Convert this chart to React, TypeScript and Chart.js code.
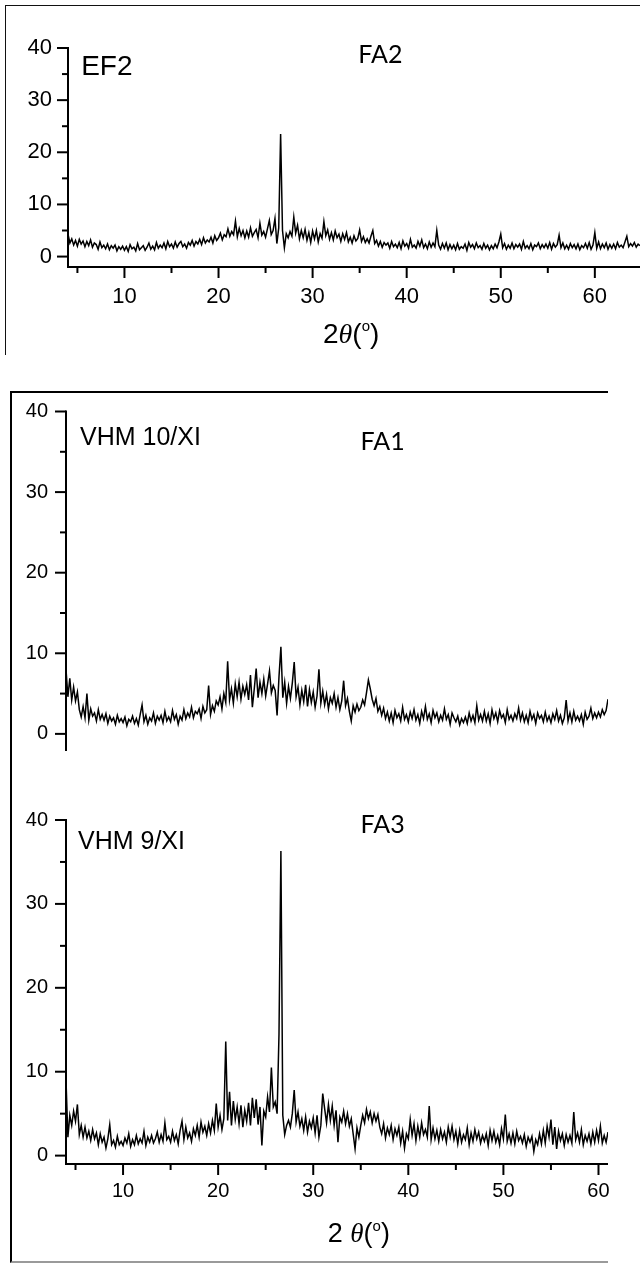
import React, { useEffect, useRef } from 'react';
import { Chart, registerables } from 'chart.js';

Chart.register(...registerables);

// Scan grid of the diffractometer (2θ, degrees)
const SCAN_START = 4;
const SCAN_STEP = 0.2;

// EF2 / FA2 intensities, one row per degree (x.0 x.2 x.4 x.6 x.8), 4.0 … 64.8
const FA2_INTENSITY = [
  4.3, 2.6, 3.4, 2.2, 3.1,
  2.0, 3.3, 2.4, 3.0, 1.9,
  2.9, 2.1, 3.2, 1.8, 2.6,
  2.3, 1.4, 2.8, 1.7, 2.2,
  1.5, 2.4, 1.3, 2.1, 1.6,
  2.2, 1.1, 1.9, 1.4, 2.0,
  1.2, 1.9, 1.0, 2.3, 1.5,
  1.8, 1.1, 2.5, 1.3, 1.7,
  2.1, 1.2, 1.8, 2.6, 1.4,
  2.0, 1.3, 2.7, 1.6, 2.2,
  1.7, 2.6, 1.5, 2.9, 1.9,
  2.4, 1.6, 2.8, 1.8, 2.5,
  2.9, 1.9, 2.4, 1.6, 2.7,
  2.2, 3.1, 2.0, 2.9, 2.4,
  3.3, 2.3, 3.6, 2.6, 3.2,
  2.8, 3.7, 2.6, 4.0, 3.1,
  3.6, 4.5, 3.2, 4.2, 3.8,
  5.3, 3.9, 4.8, 4.2, 6.8,
  3.8, 5.4, 4.0, 5.0, 3.6,
  4.9, 3.7, 5.5, 3.9, 4.6,
  5.2, 3.6, 6.4, 4.1, 4.8,
  3.7, 5.3, 6.9, 4.2, 5.0,
  7.3, 2.5, 5.5, 23.5, 5.0,
  1.7, 4.4, 3.6, 4.8, 3.9,
  7.6, 4.5, 6.0, 3.4, 5.0,
  3.6, 5.2, 3.1, 4.6, 2.7,
  4.9, 3.4, 5.0, 2.8, 4.4,
  3.5, 6.7, 4.0, 5.1, 3.3,
  4.6, 3.2, 4.9, 3.6, 4.3,
  2.9, 4.4, 3.3, 4.6, 2.8,
  3.7, 2.6, 4.0, 3.0, 3.5,
  5.1, 2.9, 3.8, 2.7, 3.4,
  2.6, 3.9, 5.0, 2.5, 3.1,
  2.0, 2.9, 1.8, 2.7, 2.2,
  2.6, 1.6, 2.9, 1.9, 2.4,
  1.7, 2.7, 1.5, 3.0, 2.0,
  2.5, 1.6, 3.3, 1.8, 2.2,
  1.6, 2.9, 2.0, 3.2, 1.7,
  2.4, 1.5, 2.8, 1.8, 2.6,
  1.9, 5.0, 2.2, 1.4, 2.5,
  1.6, 2.6, 1.3, 2.3, 1.5,
  2.2, 1.3, 2.5, 1.4, 1.9,
  1.6, 2.4, 1.2, 2.7, 1.8,
  2.3, 1.5, 2.6, 1.7, 2.1,
  1.4, 2.5, 1.6, 2.2, 1.3,
  2.1, 1.5, 2.4, 1.7, 2.8,
  4.3, 1.7, 2.5, 1.4, 2.2,
  1.6, 2.6, 1.5, 2.3, 1.8,
  2.4, 1.4, 2.9, 1.6, 2.1,
  1.5, 2.5, 1.3, 2.2, 1.9,
  2.6, 1.5, 2.3, 1.7, 2.4,
  1.6, 2.7, 1.4, 2.5, 1.8,
  2.3, 4.1, 1.7, 2.6, 1.5,
  2.2, 1.4, 2.5, 1.7, 2.3,
  1.5, 2.4, 1.3, 2.1, 1.7,
  2.5, 1.6, 2.7, 1.4, 2.2,
  4.6, 1.6, 2.8, 1.5, 2.4,
  1.7, 2.6, 1.4, 2.3, 1.6,
  2.4, 1.5, 2.7, 1.8, 2.2,
  1.7, 2.8, 3.9, 1.9, 2.5,
  2.0, 2.7, 1.8, 2.4, 2.1,
];

// VHM 10/XI / FA1 intensities, 4.0 … 61.0
const FA1_INTENSITY = [
  8.0, 4.6, 6.9, 4.2, 5.8,
  4.1, 5.2, 3.0, 2.1, 3.4,
  2.0, 5.0, 1.7, 3.1, 2.2,
  2.6, 1.6, 3.0, 1.8, 2.4,
  1.7, 2.5, 1.3, 2.2, 1.6,
  2.0, 1.2, 2.3, 1.5, 1.9,
  1.4, 2.1, 1.0, 1.8, 1.5,
  2.2, 1.3, 1.9, 1.1, 2.4,
  3.6, 1.5, 2.3, 1.2, 2.0,
  1.6, 2.6, 1.3, 2.2, 1.7,
  2.3, 1.4, 2.8, 1.6, 2.1,
  1.5, 2.9, 1.8, 2.4, 1.2,
  2.2, 1.7, 3.0, 1.9, 2.6,
  2.1, 3.3, 2.0, 2.8, 2.5,
  3.1, 1.9, 3.4, 2.6, 3.0,
  6.0, 2.4, 3.5, 2.8, 4.1,
  3.6, 4.6, 3.1, 5.0, 3.9,
  9.0, 4.2, 5.6, 3.8, 6.2,
  4.6, 6.4, 4.3, 5.9, 4.9,
  6.1, 4.2, 7.3, 3.3, 5.6,
  8.1, 4.5, 6.4, 5.0, 6.8,
  4.7, 6.2, 7.8, 5.1, 6.0,
  5.4, 2.3, 7.1, 10.8, 4.5,
  6.4, 3.8, 5.9, 4.4, 6.3,
  8.9, 4.6, 5.8, 3.6, 5.4,
  4.0, 6.1, 3.4, 5.5, 3.9,
  5.2, 3.3, 4.7, 8.0, 3.8,
  5.3, 3.6, 4.9, 3.1, 4.5,
  3.8, 5.0, 3.3, 4.5, 3.0,
  4.1, 6.6, 3.5, 4.4, 2.8,
  1.6, 3.5, 2.7, 3.7, 2.9,
  3.3, 4.2, 3.6, 5.1, 6.7,
  5.6, 4.3, 3.5, 4.4, 2.8,
  3.4, 2.3, 3.2, 1.9, 2.7,
  1.6, 2.6, 1.4, 2.9, 2.0,
  2.5, 1.6, 3.3, 1.8, 2.4,
  1.5, 2.7, 1.9, 3.0, 1.7,
  2.4, 1.3, 2.8, 1.9, 3.4,
  1.8, 2.5, 1.4, 2.9, 2.0,
  2.6, 1.5, 2.3, 1.7, 3.1,
  1.8, 2.4, 1.2, 2.6, 2.0,
  1.5, 2.2, 1.1, 1.9, 1.4,
  2.1, 1.3, 2.6, 1.6, 2.3,
  1.4, 3.5, 1.7, 2.4, 1.6,
  2.8, 1.6, 2.5, 1.3, 3.0,
  1.9, 2.6, 1.5, 2.9, 2.0,
  2.4, 1.4, 3.0, 1.8, 2.3,
  1.6, 2.5, 1.9, 3.2, 1.7,
  2.6, 1.5, 2.3, 1.4, 2.8,
  1.8, 2.4, 1.3, 2.6, 1.9,
  2.3, 1.5, 2.7, 1.6, 2.2,
  1.4, 2.5, 1.8, 2.9, 1.6,
  2.3, 1.3, 2.0, 4.2, 1.6,
  2.6, 1.5, 2.8, 1.7, 2.2,
  1.6, 2.4, 1.2, 2.7, 1.8,
  2.2, 3.2, 1.9, 2.6, 2.0,
  2.7, 2.1, 3.0, 2.4, 2.9,
  4.3,
];

// VHM 9/XI / FA3 intensities, 4.0 … 61.0
const FA3_INTENSITY = [
  9.0, 2.2, 4.8, 3.6, 5.3,
  4.1, 6.1, 2.5, 3.6, 2.2,
  3.4, 2.1, 2.9, 1.8, 3.1,
  2.0, 2.7, 1.3, 2.6, 1.6,
  2.2, 0.9, 2.0, 3.7, 1.3,
  1.8, 1.0, 2.3, 1.3, 1.7,
  1.2, 2.1, 1.5, 2.6, 1.1,
  1.9, 1.3, 2.4, 1.4, 2.0,
  1.5, 2.9, 1.2, 2.2, 1.6,
  2.4, 1.5, 2.0, 2.8, 1.6,
  2.5, 1.7, 3.9, 1.9, 2.3,
  1.6, 2.9, 1.8, 2.5, 1.4,
  3.0, 4.1, 1.9, 3.4, 2.1,
  2.7, 1.7, 3.2, 2.4, 3.6,
  2.2, 4.0, 2.8, 3.5, 2.4,
  3.8, 2.7, 4.2, 3.0, 6.2,
  3.4, 4.8, 3.1, 4.4, 13.6,
  4.2, 7.6, 3.6, 6.5, 4.3,
  5.8, 3.8, 6.0, 3.4, 5.4,
  4.1, 6.3, 3.6, 6.9, 4.5,
  6.7, 3.7, 5.8, 1.2, 5.3,
  4.6, 7.0, 5.2, 10.5, 5.8,
  6.4, 5.0, 14.5, 36.3, 4.8,
  2.5, 3.6, 4.2, 3.4, 5.0,
  7.8, 4.0, 5.2, 3.5, 4.4,
  3.0, 4.6, 2.8, 4.1, 3.3,
  4.5, 2.7, 4.8, 2.2, 3.6,
  7.4, 5.6, 3.9, 6.1, 4.2,
  5.9, 3.6, 5.4, 1.6, 4.6,
  4.0, 5.3, 3.8, 5.0, 3.5,
  4.4, 2.6, 0.8, 3.3, 2.2,
  3.6, 4.8, 3.9, 5.5, 4.4,
  5.2, 3.9, 5.0, 4.1, 4.9,
  3.4, 2.6, 3.8, 2.1, 3.3,
  2.5, 3.6, 1.9, 3.2, 2.4,
  3.4, 1.5, 2.9, 0.9, 2.6,
  2.0, 4.3, 2.4, 3.8, 1.8,
  3.5, 2.2, 3.9, 2.5, 3.1,
  2.2, 5.9, 1.9, 3.3, 2.0,
  3.0, 1.7, 3.1, 2.0, 2.8,
  1.6, 3.4, 2.2, 3.5, 1.9,
  2.9, 1.4, 3.0, 1.6, 2.5,
  1.9, 3.3, 1.3, 2.7, 1.7,
  3.1, 2.0, 2.8, 1.5, 2.4,
  1.7, 2.6, 1.2, 3.0, 1.8,
  2.9, 1.6, 2.4, 1.3, 3.2,
  2.0, 4.9, 1.7, 2.6, 1.5,
  2.7, 1.4, 2.9, 1.8, 2.3,
  1.5, 2.5, 1.1, 2.2, 1.6,
  2.3, 0.5, 1.9, 1.3, 2.6,
  1.4, 3.0, 1.5, 3.5, 2.2,
  4.3, 1.3, 3.4, 0.8, 2.9,
  1.8, 2.6, 1.2, 2.5, 1.6,
  2.4, 1.5, 5.2, 1.9, 2.7,
  1.6, 3.1, 1.3, 2.4, 1.7,
  2.6, 1.4, 2.8, 1.6, 3.0,
  1.8, 3.5, 1.5, 2.4, 1.6,
  2.8,
];

// Axis tick values
const Y_MAJOR = [0, 10, 20, 30, 40];
const Y_MINOR = [5, 15, 25, 35];
const X_MAJOR = [10, 20, 30, 40, 50, 60];
const X_MINOR = [5, 15, 25, 35, 45, 55];

const SANS = "'Liberation Sans', Arial, sans-serif";
const SERIF = "'Liberation Serif', 'Times New Roman', serif";
const CALIBRI_LIKE = "Lato, 'Open Sans', sans-serif";

type Label = { text: string; x: number; y: number; font: string; align: CanvasTextAlign };
type Title = { x: number; y: number; size: number; spaced: boolean };
type PanelCfg = {
  key: string;
  top: number;
  height: number;
  intensity: number[];
  xMax: number;
  yMin: number;
  padTop: number;
  padRight: number;
  padBottom: number;
  yWidth: number;
  xHeight: number;
  showX: boolean;
  tickFont: number;
  yPad: number;
  xPad: number;
  labels: Label[];
  title?: Title;
};

const PANELS: PanelCfg[] = [
  {
    key: 'fa2', top: 0, height: 360, intensity: FA2_INTENSITY, xMax: 64.8, yMin: -2,
    padTop: 48, padRight: 0, padBottom: 13, yWidth: 68, xHeight: 80, showX: true,
    tickFont: 22, yPad: 16, xPad: 17,
    labels: [
      { text: 'EF2', x: 5.4, y: 34.8, font: `28px ${SANS}`, align: 'left' },
      { text: 'FA2', x: 37.2, y: 37.1, font: `25px ${CALIBRI_LIKE}`, align: 'center' },
    ],
    title: { x: 34.1, y: -16.6, size: 28, spaced: false },
  },
  {
    key: 'fa1', top: 380, height: 400, intensity: FA1_INTENSITY, xMax: 61, yMin: -2,
    padTop: 31.5, padRight: 32, padBottom: 16, yWidth: 66, xHeight: 0, showX: false,
    tickFont: 20, yPad: 18, xPad: 15,
    labels: [
      { text: 'VHM 10/XI', x: 5.47, y: 35.9, font: `25px ${SANS}`, align: 'left' },
      { text: 'FA1', x: 37.3, y: 35.2, font: `25px ${CALIBRI_LIKE}`, align: 'center' },
    ],
  },
  {
    key: 'fa3', top: 790, height: 474, intensity: FA3_INTENSITY, xMax: 61, yMin: -1,
    padTop: 23, padRight: 32, padBottom: 40, yWidth: 66, xHeight: 60, showX: true,
    tickFont: 20, yPad: 18, xPad: 15,
    labels: [
      { text: 'VHM 9/XI', x: 5.26, y: 36.6, font: `25px ${SANS}`, align: 'left' },
      { text: 'FA3', x: 37.3, y: 38.4, font: `25px ${CALIBRI_LIKE}`, align: 'center' },
    ],
    title: { x: 34.8, y: -10.35, size: 27, spaced: true },
  },
];

function drawTitle(ctx: CanvasRenderingContext2D, cx: number, baseline: number, size: number, spaced: boolean) {
  const parts = [
    { t: spaced ? '2 ' : '2', f: `${size}px ${SANS}`, dy: 0 },
    { t: 'θ', f: `italic ${size}px ${SERIF}`, dy: 0 },
    { t: '(', f: `${size}px ${SANS}`, dy: 0 },
    { t: 'o', f: `${Math.round(size * 0.55)}px ${SANS}`, dy: -size * 0.42 },
    { t: ')', f: `${size}px ${SANS}`, dy: 0 },
  ];
  let total = 0;
  const widths = parts.map((p) => {
    ctx.font = p.f;
    const w = ctx.measureText(p.t).width;
    total += w;
    return w;
  });
  let x = cx - total / 2;
  ctx.textAlign = 'left';
  ctx.textBaseline = 'alphabetic';
  parts.forEach((p, i) => {
    ctx.font = p.f;
    ctx.fillText(p.t, x, baseline + p.dy);
    x += widths[i];
  });
}

function makeAxisPlugin(cfg: PanelCfg) {
  return {
    id: 'xrdAxes_' + cfg.key,
    afterDraw(chart: any) {
      const { ctx, chartArea: a } = chart;
      const xs = chart.scales.x;
      const ys = chart.scales.y;
      ctx.save();
      ctx.strokeStyle = '#000';
      ctx.fillStyle = '#000';
      ctx.lineWidth = 2;
      ctx.lineCap = 'butt';
      // left axis
      ctx.beginPath();
      ctx.moveTo(a.left, a.top - 1);
      ctx.lineTo(a.left, a.bottom + 1);
      ctx.stroke();
      Y_MAJOR.forEach((v) => {
        const py = ys.getPixelForValue(v);
        ctx.beginPath();
        ctx.moveTo(a.left - 11, py);
        ctx.lineTo(a.left, py);
        ctx.stroke();
      });
      Y_MINOR.forEach((v) => {
        const py = ys.getPixelForValue(v);
        ctx.beginPath();
        ctx.moveTo(a.left - 6, py);
        ctx.lineTo(a.left, py);
        ctx.stroke();
      });
      if (cfg.showX) {
        ctx.beginPath();
        ctx.moveTo(a.left - 1, a.bottom);
        ctx.lineTo(a.right, a.bottom);
        ctx.stroke();
        X_MAJOR.forEach((v) => {
          const px = xs.getPixelForValue(v);
          if (px > a.right) return;
          ctx.beginPath();
          ctx.moveTo(px, a.bottom);
          ctx.lineTo(px, a.bottom + 11);
          ctx.stroke();
        });
        X_MINOR.forEach((v) => {
          const px = xs.getPixelForValue(v);
          if (px > a.right) return;
          ctx.beginPath();
          ctx.moveTo(px, a.bottom);
          ctx.lineTo(px, a.bottom + 6);
          ctx.stroke();
        });
      }
      // annotations
      ctx.textBaseline = 'alphabetic';
      cfg.labels.forEach((l) => {
        ctx.font = l.font;
        ctx.textAlign = l.align;
        ctx.fillText(l.text, xs.getPixelForValue(l.x), ys.getPixelForValue(l.y));
      });
      if (cfg.title) {
        drawTitle(ctx, xs.getPixelForValue(cfg.title.x), ys.getPixelForValue(cfg.title.y), cfg.title.size, cfg.title.spaced);
      }
      ctx.restore();
    },
  };
}

function buildConfig(cfg: PanelCfg): any {
  const points = cfg.intensity.map((v, i) => ({ x: +(SCAN_START + i * SCAN_STEP).toFixed(2), y: v }));
  const tickFont = { family: SANS, size: cfg.tickFont };
  return {
    type: 'line',
    data: {
      datasets: [
        {
          data: points,
          borderColor: '#000',
          borderWidth: 1.5,
          pointRadius: 0,
          tension: 0,
          fill: false,
        },
      ],
    },
    options: {
      animation: false,
      responsive: false,
      maintainAspectRatio: false,
      events: [],
      layout: { padding: { top: cfg.padTop, right: cfg.padRight, bottom: cfg.padBottom, left: 0 } },
      plugins: { legend: { display: false }, tooltip: { enabled: false }, title: { display: false } },
      scales: {
        x: {
          type: 'linear',
          min: SCAN_START,
          max: cfg.xMax,
          display: cfg.showX,
          grid: { display: false, drawTicks: false },
          border: { display: false },
          ticks: {
            stepSize: 10,
            includeBounds: false,
            autoSkip: false,
            maxRotation: 0,
            padding: cfg.xPad,
            color: '#000',
            font: tickFont,
          },
          afterFit: (s: any) => {
            s.height = cfg.xHeight;
          },
        },
        y: {
          type: 'linear',
          min: cfg.yMin,
          max: 40,
          grid: { display: false, drawTicks: false },
          border: { display: false },
          ticks: {
            stepSize: 10,
            includeBounds: false,
            padding: cfg.yPad,
            color: '#000',
            font: tickFont,
          },
          afterFit: (s: any) => {
            s.width = cfg.yWidth;
          },
        },
      },
    },
    plugins: [makeAxisPlugin(cfg)],
  };
}

function Panel({ cfg }: { cfg: PanelCfg }) {
  const ref = useRef<HTMLCanvasElement>(null);
  useEffect(() => {
    const canvas = ref.current;
    if (!canvas) return;
    const chart = new Chart(canvas, buildConfig(cfg));
    return () => chart.destroy();
  }, [cfg]);
  return (
    <canvas
      ref={ref}
      width={640}
      height={cfg.height}
      style={{ position: 'absolute', left: 0, top: cfg.top, width: 640, height: cfg.height }}
    />
  );
}

export default function App() {
  return (
    <div
      style={{
        position: 'absolute',
        left: 0,
        top: 0,
        width: 640,
        height: 1264,
        background: '#fff',
        overflow: 'hidden',
      }}
    >
      <div
        style={{
          position: 'absolute',
          left: 5,
          top: 5,
          width: 640,
          height: 350,
          borderTop: '1px solid #111',
          borderLeft: '1px solid #111',
          boxSizing: 'border-box',
        }}
      />
      <div
        style={{
          position: 'absolute',
          left: 10,
          top: 391,
          width: 598,
          height: 872,
          borderTop: '2px solid #000',
          borderLeft: '2px solid #000',
          borderBottom: '2px solid #9a9a9a',
          boxSizing: 'border-box',
        }}
      />
      {PANELS.map((p) => (
        <Panel key={p.key} cfg={p} />
      ))}
    </div>
  );
}
